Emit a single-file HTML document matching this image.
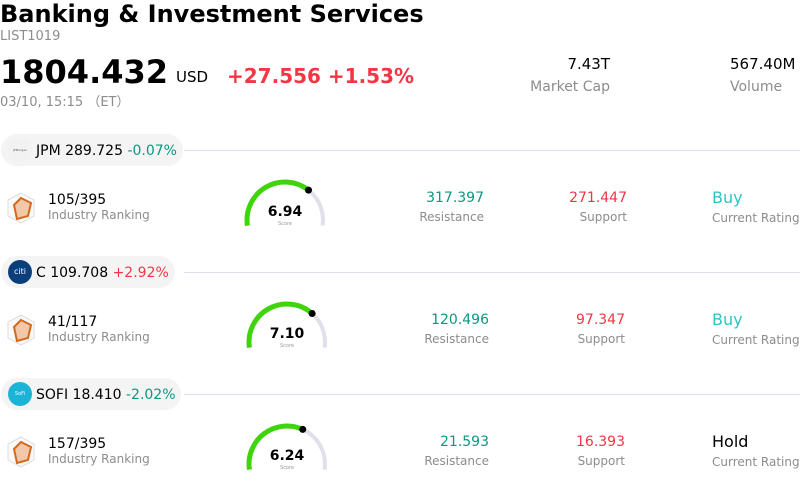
<!DOCTYPE html>
<html><head><meta charset="utf-8"><style>
body{margin:0;width:800px;height:488px;background:#fff;font-family:"DejaVu Sans","Liberation Sans",sans-serif;position:relative;overflow:hidden}
.a{position:absolute;white-space:nowrap}
.g{color:#8c8c8c}
.up{color:#f23645}.dn{color:#089981}
</style></head><body>
<div class="a" style="left:0;top:0;font-size:24px;font-weight:bold;color:#000">Banking &amp; Investment Services</div>
<div class="a g" style="left:0;top:29px;font-size:13px">LIST1019</div>
<div class="a" style="left:0;top:53px;font-size:32px;font-weight:bold">1804.432</div>
<div class="a" style="left:176px;top:68px;font-size:15px">USD</div>
<div class="a up" style="left:227px;top:64px;font-size:20px;font-weight:bold">+27.556 +1.53%</div>
<div class="a g" style="left:0;top:91px;font-size:13px">03/10, 15:15 （ET）</div>
<div class="a" style="right:190px;top:55px;font-size:15px">7.43T</div>
<div class="a g" style="right:190px;top:79px;font-size:14px">Market Cap</div>
<div class="a" style="left:730px;top:55px;font-size:15px">567.40M</div>
<div class="a g" style="left:730px;top:79px;font-size:14px">Volume</div>
<div id="rows"></div>
<script>
const tickers=["JPM","C","SOFI"];
const prices=["289.725","109.708","18.410"];
const changes=["-0.07%","+2.92%","-2.02%"];
const ranks=["105/395","41/117","157/395"];
const scores=[6.94,7.10,6.24];
const resistances=["317.397","120.496","21.593"];
const supports=["271.447","97.347","16.393"];
const ratings=["Buy","Buy","Hold"];
const logoColors=["#f2f2f2","#0b3f7c","#1bb3d6"];
const logoText=["JPMorgan","citi","SoFi"];
const gx=[285,287,287], rx=[484,489,489], sx=[627,625,625];
const root=document.getElementById('rows');
function gaugePt(cx,cy,r,f){const a0=188.5,sw=197;const a=(a0-sw*f)*Math.PI/180;return [cx+r*Math.cos(a),cy-r*Math.sin(a)];}
tickers.forEach((t,i)=>{
  const y=150+122*i;
  const row=document.createElement('div');
  
  
  const chg=changes[i].startsWith('-')?'dn':'up';
  const pw=[182,174,180][i];
  let h='';
  h+=`<div class="a" style="left:184px;top:${y}px;width:616px;height:1px;background:#e0e0ec"></div>`;
  h+=`<div class="a" style="left:1px;top:${y-16}px;width:${pw}px;height:32px;border-radius:16px;background:#f4f4f4"></div>`;
  h+=`<div class="a" style="left:8px;top:${y-12}px;width:24px;height:24px;border-radius:12px;background:${logoColors[i]};color:#fff;font-size:${i==0?3:i==1?8:5}px;line-height:24px;text-align:center;${i==0?'color:#555;':''}">${logoText[i]}</div>`;
  h+=`<div class="a" style="left:36px;top:${y-7}px;font-size:14px">${t} ${prices[i]} <span class="${chg}">${changes[i]}</span></div>`;
  const cy=y+58;
  h+=`<svg class="a" style="left:6px;top:${cy-17}px" width="30" height="34"><polygon points="15,2 28,9 28,25 15,32 2,25 2,9" fill="#fafafa" stroke="#ddd"/><polygon points="15,7 25,12 22,25 11,28 8,14" fill="#f2c8a8" stroke="#d2691e" stroke-width="2"/></svg>`;
  h+=`<div class="a" style="left:48px;top:${cy-16}px;font-size:14px">${ranks[i]}</div>`;
  h+=`<div class="a g" style="left:48px;top:${cy}px;font-size:12px">Industry Ranking</div>`;
  const gc=gx[i], gcy=cy+12, r=38;
  const f=scores[i]/10;
  const s=gaugePt(gc,gcy,r,0), e=gaugePt(gc,gcy,r,1), m=gaugePt(gc,gcy,r,f);
  const big=(197*f>180)?1:0;
  h+=`<svg class="a" style="left:0;top:0" width="800" height="488">
    <path d="M${s[0]},${s[1]} A${r},${r} 0 1 1 ${e[0]},${e[1]}" fill="none" stroke="#e0e0ea" stroke-width="4"/>
    <path d="M${s[0]},${s[1]} A${r},${r} 0 ${big} 1 ${m[0]},${m[1]}" fill="none" stroke="#3fd40c" stroke-width="5"/>
    <circle cx="${m[0]}" cy="${m[1]}" r="3.5" fill="#000"/>
    <text x="${gc}" y="${gcy-4}" text-anchor="middle" font-size="14" font-weight="bold" font-family="DejaVu Sans">${scores[i].toFixed(2)}</text>
    <text x="${gc}" y="${gcy+5}" text-anchor="middle" font-size="5" fill="#999" font-family="DejaVu Sans">Score</text></svg>`;
  h+=`<div class="a dn" style="right:${800-rx[i]}px;top:${cy-18}px;font-size:14px">${resistances[i]}</div>`;
  h+=`<div class="a g" style="right:${800-rx[i]}px;top:${cy+2}px;font-size:12px">Resistance</div>`;
  h+=`<div class="a up" style="right:${800-sx[i]}px;top:${cy-18}px;font-size:14px">${supports[i]}</div>`;
  h+=`<div class="a g" style="right:${800-sx[i]}px;top:${cy+2}px;font-size:12px">Support</div>`;
  h+=`<div class="a" style="left:712px;top:${cy-20}px;font-size:16px;color:${ratings[i]=='Buy'?'#2fc4c4':'#000'}">${ratings[i]}</div>`;
  h+=`<div class="a g" style="left:712px;top:${cy+3}px;font-size:12px">Current Rating</div>`;
  row.innerHTML=h;
  root.appendChild(row);
});
</script>
</body></html>
